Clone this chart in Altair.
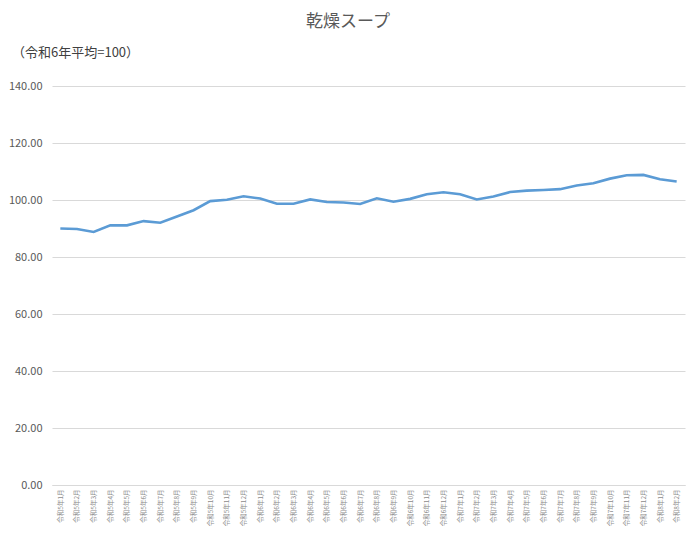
import altair as alt
import pandas as pd

months = (
    [f"令和5年{m}月" for m in range(1, 13)]
    + [f"令和6年{m}月" for m in range(1, 13)]
    + [f"令和7年{m}月" for m in range(1, 13)]
    + [f"令和8年{m}月" for m in range(1, 3)]
)
values = [
    90.0, 89.8, 88.8, 91.1, 91.1, 92.6, 92.0, 94.2, 96.4, 99.6, 100.1, 101.3,
    100.5, 98.7, 98.7, 100.2, 99.3, 99.1, 98.6, 100.6, 99.4, 100.4, 102.0, 102.7,
    102.0, 100.2, 101.2, 102.8, 103.3, 103.5, 103.8, 105.1, 105.9, 107.5, 108.7, 108.8,
    107.3, 106.5,
]
y_ticks = [0, 20, 40, 60, 80, 100, 120, 140]
title_text = "乾燥スープ"
subtitle_text = "（令和6年平均=100）"

df = pd.DataFrame({"month": months, "value": values})
FONT = "Noto Sans CJK JP"

line = alt.Chart(df).mark_line(color="#5b9bd5", strokeWidth=2.6).encode(
    x=alt.X("month:O", sort=months, title=None,
            axis=alt.Axis(labelAngle=-90, labelFontSize=6.5, labelColor="#8c8c8c",
                          labelPadding=4, ticks=False, domainColor="#d9d9d9",
                          labelOverlap=False, labelFont=FONT, labelLimit=0)),
    y=alt.Y("value:Q", title=None,
            scale=alt.Scale(domain=[0, 140], nice=False),
            axis=alt.Axis(values=y_ticks, format=".2f", labelFontSize=11,
                          labelColor="#595959", labelPadding=10, ticks=False,
                          domain=False, gridColor="#d9d9d9", labelFont=FONT)),
)

one = pd.DataFrame({"t": [0]})
title = alt.Chart(one).mark_text(
    text=title_text, fontSize=17, color="#595959", font=FONT,
    align="center", baseline="middle"
).encode(x=alt.value(296), y=alt.value(-64))

subtitle = alt.Chart(one).mark_text(
    text=subtitle_text, fontSize=13, color="#404040", font=FONT,
    align="left", baseline="middle"
).encode(x=alt.value(-40), y=alt.value(-33))

chart = alt.layer(line, title, subtitle).properties(
    width=633, height=399,
    background="white",
    autosize=alt.AutoSizeParams(type="none"),
    padding={"left": 44, "top": 78, "right": 7, "bottom": 42},
).configure_view(strokeWidth=0, stroke="transparent")

chart.save("out.html", embed_options={"renderer": "svg", "actions": False})
